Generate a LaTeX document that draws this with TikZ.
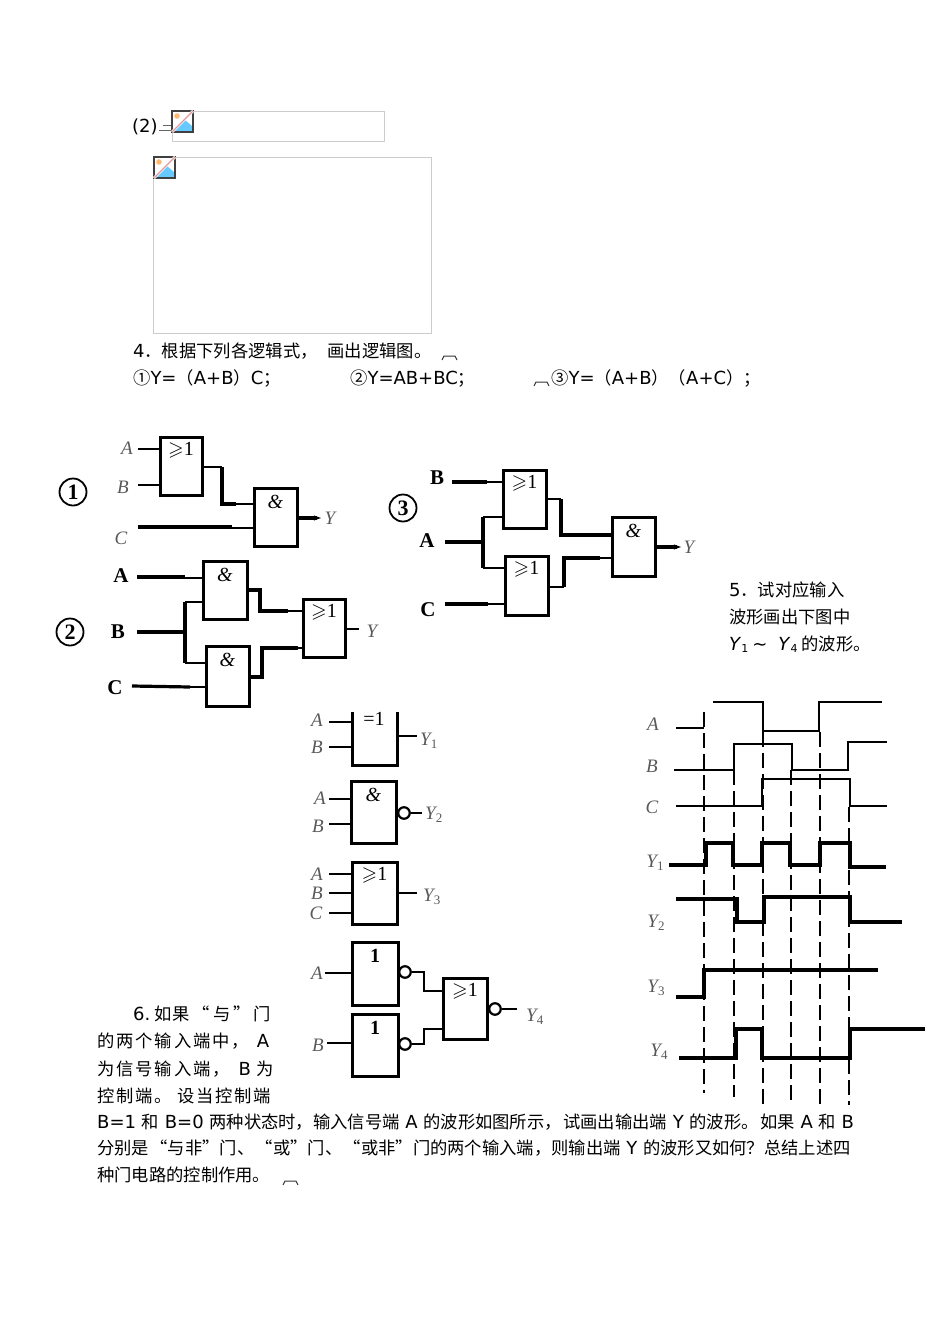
\documentclass[tikz,border=0pt]{standalone}
\usepackage{amssymb}
\usepackage{fontspec}
\setmainfont{DejaVu Sans}
\newfontfamily\cjk{Noto Sans CJK SC}
\newfontfamily\cjkwide[LetterSpace=11]{Noto Sans CJK SC}
\newfontfamily\gatefont{Liberation Serif}
\newcommand{\zh}[1]{{\cjk\fontsize{17.3}{20}\selectfont #1}}
\newcommand{\zw}[1]{{\cjkwide\fontsize{17.3}{20}\selectfont #1}}
\newcommand{\sub}[1]{\raisebox{-3pt}{\fontsize{13}{13}\selectfont\upshape #1}}
\usetikzlibrary{arrows.meta, positioning}
\tikzset{
  textline/.style = {anchor=base west, inner sep=0pt, font=\fontsize{18}{20}\selectfont},
  imgbox/.style = {draw=black!20, line width=1pt},
  gate/.style = {draw, line width=3pt, anchor=north west, inner sep=0pt, outer sep=0pt},
  gatetext/.style = {inner sep=0pt, font=\gatefont\fontsize{20}{20}\selectfont},
  inlabel/.style = {inner sep=0pt, text=black!65, font=\gatefont\itshape\fontsize{19}{19}\selectfont},
  boldlabel/.style = {inner sep=0pt, font=\gatefont\bfseries\fontsize{21}{21}\selectfont},
  circnum/.style = {draw, circle, line width=1.8pt, inner sep=0pt, minimum size=27pt, font=\gatefont\bfseries\fontsize{22}{22}\selectfont},
  thinwire/.style = {line width=1.4pt},
  heavywire/.style = {line width=3.2pt},
  bubble/.style = {draw, circle, line width=2.2pt, fill=white, minimum size=11.5pt, inner sep=0pt},
  guide/.style = {line width=1.1pt, dash pattern=on 15pt off 6pt},
  lightwave/.style = {line width=1.4pt},
  heavywave/.style = {line width=3.2pt},
  parmark/.style = {line width=1pt, black!80},
  brokenicon/.pic = {
    \fill[white] (0,0) rectangle (21,21);
    \fill[orange!55] (5,5) circle (2.8);
    \fill[blue!35!cyan!60] (2,19) -- (13,9) -- (20,15) -- (20,20) -- (2,20) -- cycle;
    \draw[black!75, line width=1.5pt] (0,0) rectangle (21,21);
    \draw[white, line width=2.6pt] (0,21) -- (21,0);
    \draw[red!45!black!20!pink, line width=1.4pt] (0,21) -- (21,0);
  }
}
\begin{document}
\begin{tikzpicture}[x=1pt, y=-1pt, line cap=butt, >={Stealth[length=7pt, width=5pt]}]
  \useasboundingbox (0,0) rectangle (950,1317);

  % Empty pictures at the top
  \node[textline] (two) at (132,132) {(2)};
  \draw[black!60, line width=.7pt] (163,125) -- (171,125) (159,130) -- (171,130);
  \draw[imgbox] (172,111) rectangle (384,141);
  \pic at (172,111) {brokenicon};
  \draw[imgbox] (153,157) rectangle (431,333);
  \pic at (154,157) {brokenicon};

  % Question 4
  \node[textline] (q4) at (133,357) {4\zh{．根据下列各逻辑式，\hspace{10pt}画出逻辑图。}};
  \draw[parmark] (442,360) -- (444,356) -- (455,356) -- (457,360);
  \node[textline] (f1) at (133,384) {\zh{①}Y=\zh{（}A+B\zh{）}C\zh{；}};
  \node[textline] (f2) at (350,384) {\zh{②}Y=AB+BC\zh{；}};
  \draw[parmark] (534,386) -- (536,382) -- (547,382) -- (549,386);
  \node[textline] (f3) at (551,384) {\zh{③}Y=\zh{（}A+B\zh{）（}A+C\zh{）；}};

  % Circuit 1
  \node[circnum] (n1) at (73,492) {1};
  \node[gate, minimum width=42pt, minimum height=58pt] (o1) at (160,437) {};
  \node[gate, minimum width=43pt, minimum height=58pt] (a1) at (254,488) {};
  \node[gatetext, below=5pt of o1.north] (o1t) {$\geqslant$1};
  \node[gatetext, below=7pt of a1.north] (a1t) {\textit{\&}};
  \node[inlabel] (A1) at (127,448) {A};
  \node[inlabel] (B1) at (123,487) {B};
  \node[inlabel] (C1) at (121,538) {C};
  \node[inlabel] (Y1) at (330,518) {Y};
  \coordinate (wa1) at (138,449);
  \coordinate (wb1) at (138,485);
  \coordinate (wc1) at (138,527);
  \coordinate (wy1) at (321,518);
  \coordinate (kt1) at (222,467);
  \coordinate (kb1) at (222,504);
  \draw[thinwire] (wa1) -- (wa1 -| o1.west);
  \draw[thinwire] (wb1) -- (wb1 -| o1.west);
  \draw[thinwire] (o1.east |- kt1) -- (kt1);
  \draw[heavywire] (kt1) -- (kb1) -- ++(14,0);
  \draw[thinwire] (kb1) -- (kb1 -| a1.west);
  \draw[heavywire] (wc1) -- ++(94,0);
  \draw[thinwire] (wc1) ++(94,1) -- (a1.west |- 0,528);
  \draw[heavywire, ->] (a1.east |- wy1) -- (wy1);

  % Circuit 2
  \node[circnum] (n2) at (70,632) {2};
  \node[gate, minimum width=44pt, minimum height=58pt] (a2) at (203,561) {};
  \node[gate, minimum width=43pt, minimum height=60pt] (a3) at (206,646) {};
  \node[gate, minimum width=42pt, minimum height=58pt] (o2) at (303,599) {};
  \node[gatetext, below=7pt of a2.north] (a2t) {\textit{\&}};
  \node[gatetext, below=7pt of a3.north] (a3t) {\textit{\&}};
  \node[gatetext, below=5pt of o2.north] (o2t) {$\geqslant$1};
  \node[boldlabel] (A2) at (121,576) {A};
  \node[boldlabel] (B2) at (118,632) {B};
  \node[boldlabel] (C2) at (115,688) {C};
  \node[inlabel] (Y2) at (372,631) {Y};
  \coordinate (wa2) at (137,577);
  \coordinate (wb2) at (137,632);
  \coordinate (wc2) at (132,686);
  \coordinate (jb2) at (185,632);
  \coordinate (jt2) at (185,602);
  \coordinate (jd2) at (185,663);
  \coordinate (kt2) at (260,590);
  \coordinate (km2) at (260,611);
  \coordinate (kb2) at (262,677);
  \coordinate (kn2) at (262,648);
  \coordinate (wy2) at (359,629);
  \draw[heavywire] (wa2) -- ++(48,0);
  \draw[thinwire] (wa2) ++(48,1) -- (a2.west |- 0,578);
  \draw[heavywire] (wb2) -- (jb2);
  \draw[heavywire] (jt2) -- (jd2);
  \draw[thinwire] (jt2) -- (jt2 -| a2.west);
  \draw[thinwire] (jd2) -- (jd2 -| a3.west);
  \draw[heavywire] (wc2) -- ++(58,1);
  \draw[thinwire] (190,687) -- (a3.west |- 0,687);
  \draw[heavywire] (a2.east |- kt2) -- (kt2) -- (km2) -- ++(28,0);
  \draw[thinwire] (km2) -- (km2 -| o2.west);
  \draw[heavywire] (a3.east |- kb2) -- (kb2) -- (kn2) -- ++(36,0);
  \draw[thinwire] (kn2) -- (kn2 -| o2.west);
  \draw[thinwire] (o2.east |- wy2) -- (wy2);

  % Circuit 3
  \node[circnum] (n3) at (403,508) {3};
  \node[gate, minimum width=43pt, minimum height=58pt] (o3) at (503,470) {};
  \node[gate, minimum width=43pt, minimum height=59pt] (o4) at (505,556) {};
  \node[gate, minimum width=43pt, minimum height=59pt] (a4) at (612,517) {};
  \node[gatetext, below=5pt of o3.north] (o3t) {$\geqslant$1};
  \node[gatetext, below=5pt of o4.north] (o4t) {$\geqslant$1};
  \node[gatetext, below=7pt of a4.north] (a4t) {\textit{\&}};
  \node[boldlabel] (B3) at (437,478) {B};
  \node[boldlabel] (A3) at (427,541) {A};
  \node[boldlabel] (C3) at (428,610) {C};
  \node[inlabel] (Y3) at (689,547) {Y};
  \coordinate (wb3) at (452,482);
  \coordinate (wa3) at (445,542);
  \coordinate (wc3) at (445,604);
  \coordinate (ja3) at (483,542);
  \coordinate (jt3) at (483,517);
  \coordinate (jd3) at (483,568);
  \coordinate (kt3) at (561,499);
  \coordinate (km3) at (561,535);
  \coordinate (kb3) at (564,587);
  \coordinate (kn3) at (564,558);
  \coordinate (wy3) at (681,547);
  \draw[heavywire] (wb3) -- ++(35,0);
  \draw[thinwire] (wb3) -- (wb3 -| o3.west);
  \draw[heavywire] (wa3) -- (ja3);
  \draw[heavywire] (jt3) -- (jd3);
  \draw[thinwire] (jt3) -- (jt3 -| o3.west);
  \draw[thinwire] (jd3) -- (jd3 -| o4.west);
  \draw[heavywire] (wc3) -- ++(43,0);
  \draw[thinwire] (wc3) -- (wc3 -| o4.west);
  \draw[thinwire] (o3.east |- kt3) -- (kt3);
  \draw[heavywire] (kt3) -- (km3) -- (km3 -| a4.west);
  \draw[thinwire] (o4.east |- kb3) -- (kb3);
  \draw[heavywire] (kb3) -- (kn3) -- ++(36,0);
  \draw[thinwire] (kn3) -- (kn3 -| a4.west);
  \draw[heavywire, ->] (a4.east |- wy3) -- (wy3);

  % Question 5
  \node[textline] (q5a) at (729,596) {5\zh{．试对应输入}};
  \node[textline] (q5b) at (729,623) {\zh{波形画出下图中}};
  \node[textline] (q5c) at (729,650) {\textit{Y}\raisebox{-2pt}{\fontsize{11}{11}\selectfont 1}\hspace{4pt}\textasciitilde\hspace{11pt}\textit{Y}\raisebox{-2pt}{\fontsize{11}{11}\selectfont 4}\hspace{4pt}\zh{的波形。}};

  % Gates of question 5
  \draw[gate] (352,712) -- (352,765) -- (397,765) -- (397,712);
  \coordinate (g1w) at (352,738);
  \coordinate (g1e) at (397,736);
  \node[gatetext] (g1t) at (374,719) {=1};
  \node[inlabel] (lA1) at (317,720) {A};
  \node[inlabel] (lB1) at (317,747) {B};
  \node[inlabel, anchor=west] (lY1) at (420,741) {Y\sub{1}};
  \coordinate (iA1) at (329,722);
  \coordinate (iB1) at (329,747);
  \coordinate (oY1) at (417,736);
  \draw[thinwire] (iA1) -- (iA1 -| g1w);
  \draw[thinwire] (iB1) -- (iB1 -| g1w);
  \draw[thinwire] (g1e) -- (oY1);

  \node[gate, minimum width=45pt, minimum height=62pt] (g2) at (351,781) {};
  \node[gatetext, below=7pt of g2.north] (g2t) {\textit{\&}};
  \node[bubble] (b2) at (404,813) {};
  \node[inlabel] (lA2) at (320,798) {A};
  \node[inlabel] (lB2) at (318,826) {B};
  \node[inlabel, anchor=west] (lY2) at (425,815) {Y\sub{2}};
  \coordinate (iA2) at (329,799);
  \coordinate (iB2) at (329,824);
  \coordinate (oY2) at (422,813);
  \draw[thinwire] (iA2) -- (iA2 -| g2.west);
  \draw[thinwire] (iB2) -- (iB2 -| g2.west);
  \draw[thinwire] (b2) -- (oY2);

  \node[gate, minimum width=45pt, minimum height=62pt] (g3) at (352,862) {};
  \node[gatetext, below=5pt of g3.north] (g3t) {$\geqslant$1};
  \node[inlabel] (lA3) at (317,874) {A};
  \node[inlabel] (lB3) at (317,893) {B};
  \node[inlabel] (lC3) at (316,913) {C};
  \node[inlabel, anchor=west] (lY3) at (423,897) {Y\sub{3}};
  \coordinate (iA3) at (329,874);
  \coordinate (iB3) at (329,893);
  \coordinate (iC3) at (329,913);
  \coordinate (oY3) at (417,893);
  \draw[thinwire] (iA3) -- (iA3 -| g3.west);
  \draw[thinwire] (iB3) -- (iB3 -| g3.west);
  \draw[thinwire] (iC3) -- (iC3 -| g3.west);
  \draw[thinwire] (g3.east |- oY3) -- (oY3);

  \node[gate, minimum width=46pt, minimum height=63pt] (g4) at (352,942) {};
  \node[gate, minimum width=46pt, minimum height=62pt] (g5) at (352,1014) {};
  \node[gate, minimum width=44pt, minimum height=61pt] (g6) at (443,978) {};
  \node[gatetext, below=7pt of g4.north] (g4t) {\textbf{1}};
  \node[gatetext, below=7pt of g5.north] (g5t) {\textbf{1}};
  \node[gatetext, below=5pt of g6.north] (g6t) {$\geqslant$1};
  \node[bubble] (b4) at (405,972) {};
  \node[bubble] (b5) at (405,1044) {};
  \node[bubble] (b6) at (495,1009) {};
  \node[inlabel] (lA4) at (317,973) {A};
  \node[inlabel] (lB4) at (318,1045) {B};
  \node[inlabel, anchor=west] (lY4) at (526,1017) {Y\sub{4}};
  \coordinate (iA4) at (325,973);
  \coordinate (iB4) at (327,1043);
  \coordinate (oY4) at (517,1009);
  \draw[thinwire] (iA4) -- (iA4 -| g4.west);
  \draw[thinwire] (iB4) -- (iB4 -| g5.west);
  \draw[thinwire] (b4) -- (424,972) -- (424,991) -- (443,991);
  \draw[thinwire] (b5) -- (424,1044) -- (424,1029) -- (443,1029);
  \draw[thinwire] (b6) -- (oY4);

  % Waveforms
  \foreach \x/\t/\e in {704/712/1093, 734/770/1097, 763/732/1105, 791/770/1105, 820/732/1105, 849/807/1105}
    \draw[guide] (\x,\t) -- (\x,\e);
  \draw[lightwave] (676,728) -- (704,728);
  \draw[lightwave] (713,702) -- (763,702) -- (763,731) -- (819,731) -- (819,702) -- (882,702);
  \draw[lightwave] (674,770) -- (734,770) -- (734,744) -- (792,744) -- (792,770) -- (848,770) -- (848,742) -- (887,742);
  \draw[lightwave] (676,806) -- (762,806) -- (762,779) -- (850,779) -- (850,806) -- (887,806);
  \draw[heavywave] (669,865) -- (706,865) -- (706,843) -- (733,843) -- (733,865) -- (762,865) -- (762,843) -- (790,843) -- (790,865) -- (820,865) -- (820,843) -- (850,843) -- (850,867) -- (886,867);
  \draw[heavywave] (676,899) -- (737,899) -- (737,922) -- (764,922) -- (764,897) -- (850,897) -- (850,922) -- (902,922);
  \draw[heavywave] (676,997) -- (704,997) -- (704,970) -- (878,970);
  \draw[heavywave] (679,1058) -- (736,1058) -- (736,1029) -- (762,1029) -- (762,1058) -- (850,1058) -- (850,1029) -- (925,1029);
  \node[inlabel] (wA) at (653,724) {A};
  \node[inlabel] (wB) at (652,766) {B};
  \node[inlabel] (wC) at (652,807) {C};
  \node[inlabel] (wY1) at (655,863) {Y\sub{1}};
  \node[inlabel] (wY2) at (656,923) {Y\sub{2}};
  \node[inlabel] (wY3) at (656,988) {Y\sub{3}};
  \node[inlabel] (wY4) at (659,1052) {Y\sub{4}};

  % Question 6
  \node[textline] (q6a) at (133,1020) {6.\hspace{4pt}\zw{如\hspace{1pt}果\hspace{3pt}“\hspace{3pt}与\hspace{3pt}”\hspace{3pt}门}};
  \node[textline] (q6b) at (97,1047) {\zw{的两个输入端中，}\hspace{8pt}A};
  \node[textline] (q6c) at (97,1075) {\zw{为信号输入端，}\hspace{9pt}B \zw{为}};
  \node[textline] (q6d) at (97,1102) {\zw{控制端。\hspace{5pt}设当控制端}};
  \node[textline] (q6e) at (97,1128) {B=1 \zh{和} B=0 \zh{两种状态时，输入信号端} A \zh{的波形如图所示，\hspace{1.5pt}试画出输出端} Y \zh{的波形。\hspace{1.5pt}如果} A \zh{和} B};
  \node[textline] (q6f) at (97,1154) {\zh{分别是\hspace{1.5pt}“与非”门、\hspace{1.5pt}“或”门、\hspace{1.5pt}“或非”门的两个输入端，则输出端} Y \zh{的波形又如何？总结上述四}};
  \node[textline] (q6g) at (97,1181) {\zh{种门电路的控制作用。}};
  \draw[parmark] (283,1185) -- (285,1181) -- (296,1181) -- (298,1185);
\end{tikzpicture}
\end{document}
